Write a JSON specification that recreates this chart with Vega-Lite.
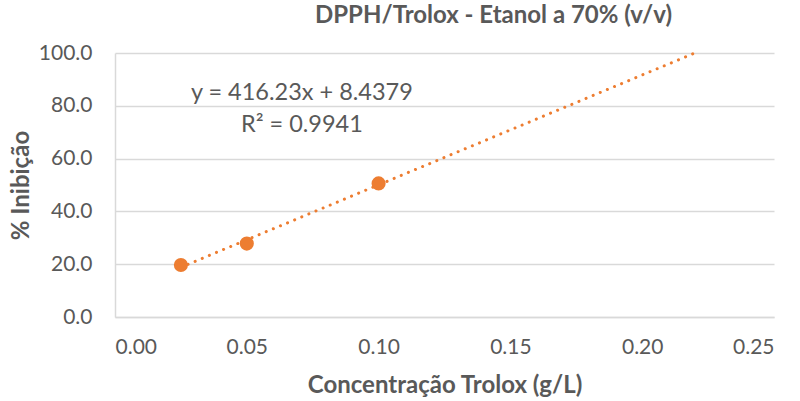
{
  "$schema": "https://vega.github.io/schema/vega-lite/v6.json",
  "width": 659,
  "height": 264,
  "autosize": {"type": "none"},
  "padding": {"left": 115, "top": 53, "right": 26, "bottom": 84},
  "background": "white",
  "config": {
    "font": "Lato",
    "view": {"stroke": null},
    "axis": {
      "labelFont": "Lato", "labelFontSize": 21, "labelColor": "#595959",
      "titleFont": "Lato", "titleFontSize": 24, "titleFontWeight": "bold", "titleColor": "#595959",
      "domainColor": "#D9D9D9", "domainWidth": 1.5, "gridColor": "#D9D9D9", "gridWidth": 1.5,
      "ticks": false
    }
  },
  "title": {
    "text": "DPPH/Trolox - Etanol a 70% (v/v)",
    "font": "Lato", "fontSize": 24, "fontWeight": "bold", "color": "#595959",
    "anchor": "middle", "dx": 49, "offset": 14
  },
  "datasets": {
    "pts": [
      {"conc": 0.025, "inib": 19.7},
      {"conc": 0.05, "inib": 27.8},
      {"conc": 0.1, "inib": 50.6}
    ],
    "trend": [
      {"conc": 0.025, "inib": 18.84},
      {"conc": 0.22, "inib": 100.0}
    ],
    "labels": [
      {"conc": 0.0709, "inib": 84.8, "txt": "y = 416.23x + 8.4379"},
      {"conc": 0.0709, "inib": 72.7, "txt": "R² = 0.9941"}
    ]
  },
  "layer": [
    {
      "data": {"name": "trend"},
      "mark": {"type": "line", "color": "#ED7D31", "strokeWidth": 3, "strokeDash": [0.1, 7.6], "strokeCap": "round", "clip": false},
      "encoding": {
        "x": {"field": "conc", "type": "quantitative", "scale": {"domain": [0, 0.25], "nice": false},
              "axis": {"title": "Concentração Trolox (g/L)", "format": ".2f", "values": [0, 0.05, 0.1, 0.15, 0.2, 0.25], "grid": false, "labelPadding": 19, "titlePadding": 16}},
        "y": {"field": "inib", "type": "quantitative", "scale": {"domain": [0, 100], "nice": false},
              "axis": {"title": "% Inibição", "format": ".1f", "values": [0, 20, 40, 60, 80, 100], "labelPadding": 23, "titlePadding": 5}}
      }
    },
    {
      "data": {"name": "pts"},
      "mark": {"type": "point", "filled": true, "color": "#ED7D31", "opacity": 1, "size": 200},
      "encoding": {
        "x": {"field": "conc", "type": "quantitative"},
        "y": {"field": "inib", "type": "quantitative"}
      }
    },
    {
      "data": {"name": "labels"},
      "mark": {"type": "text", "font": "Lato", "fontSize": 23.5, "color": "#595959", "align": "center", "baseline": "middle"},
      "encoding": {
        "x": {"field": "conc", "type": "quantitative"},
        "y": {"field": "inib", "type": "quantitative"},
        "text": {"field": "txt"}
      }
    }
  ]
}
